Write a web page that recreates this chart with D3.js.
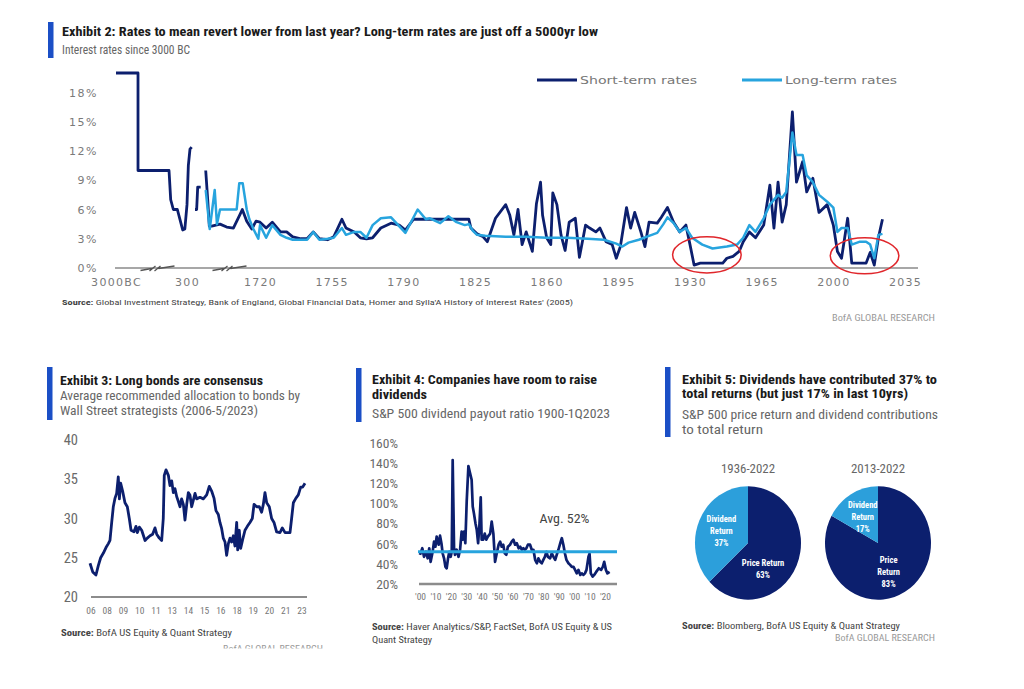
<!DOCTYPE html>
<html><head><meta charset="utf-8">
<script src="https://cdn.jsdelivr.net/npm/d3@7"></script>
<style>
body{margin:0;background:#fff;}
svg{display:block;}
</style></head><body>
<svg id="c" width="1024" height="689"></svg>
<script>
// ---------------- DATA ----------------
// Exhibit 2: interest rates (year, %), null = gap
const shortTermRates = [
[-3000,20],[-1977,20],[-1977,10],[-536,10],[-457,7],[-335,6],[-149,6],[100,3.9],[200,4],[300,6.5],[326,10.5],[358,12.2],[391,12.4],
[420,null],
[456,6],[488,6],[508,8.3],[566,8.3],
[600,null],
[664,10],[703,7],[734,4.3],[780,4.3],[942,4.5],[1072,4.2],[1202,4.1],[1332,5.5],[1376,6],[1462,4.8],[1560,4],[1643,4.8],
[1720,4.7],[1723,4.1],[1726,4.7],[1730,3.7],[1733,3.7],[1736,3.2],[1740,3],[1743,3],[1746,3.7],[1749,3],[1753,2.9],[1756,3.2],
[1760,5],[1762,4.1],[1766,3.7],[1769,3.1],[1772,3],[1775,3.1],[1779,4.1],[1784,4.6],[1788,4.4],[1791,3.9],[1795,5],[1822,5],
[1823,4.1],[1826,3.5],[1829,3.2],[1831,2.7],[1835,5.1],[1840,6.5],[1842,5.4],[1844,3.4],[1846,6],[1848,2.4],[1850,3.7],[1853,1.7],
[1855,6.6],[1857,8.8],[1858,5.4],[1860,3.1],[1862,2.4],[1863,7.7],[1865,6.5],[1867,3.4],[1869,1.8],[1871,4.7],[1874,5.1],[1876,1.1],
[1879,4.4],[1881,4.1],[1884,3.7],[1886,4.1],[1889,2.7],[1892,2.4],[1894,1],[1896,2.2],[1899,6.2],[1901,4.1],[1903,5.7],[1906,3.7],
[1908,2.2],[1910,4.7],[1914,4.6],[1916,5.2],[1919,6.2],[1922,4.7],[1925,3.7],[1928,4.4],[1930,2.4],[1932,0.3],[1935,0.5],[1946,0.5],
[1948,1],[1951,1.2],[1954,1.7],[1956,2.7],[1959,3.7],[1962,3.1],[1966,4.4],[1969,8.5],[1971,4.1],[1973,8.8],[1975,4.7],[1977,6.5],
[1980,16],[1982,8.8],[1985,10.9],[1987,7.8],[1990,9.2],[1993,5.7],[1997,6.5],[2000,4.4],[2002,1.7],[2004,1],[2007,5.1],[2009,0.5],
[2016,0.5],[2018,1.6],[2020,0.3],[2022,3.1],[2024,5]
];
const longTermRates = [
[664,8],[742,4],[839,8],[883,4.5],[942,6],[1266,6],[1317,8.7],[1383,8.7],[1462,6],[1513,5],[1592,4],[1687,3],
[1720,4.4],[1723,3.1],[1726,4.4],[1730,3.4],[1733,3.1],[1736,2.9],[1740,2.9],[1743,2.9],[1746,3.7],[1749,2.9],[1753,3],[1756,3.1],
[1760,4.1],[1762,3.4],[1766,3.7],[1769,3.7],[1772,3.1],[1775,4.4],[1779,5.1],[1784,5.2],[1791,3.6],[1797,6],[1801,5],[1803,5.1],
[1808,4.6],[1812,5.3],[1816,4.7],[1820,4.4],[1822,4.5],[1824,3.8],[1826,3.4],[1830,3.3],[1840,3.2],[1850,3.2],[1860,3.1],[1870,3.1],
[1880,3],[1888,2.9],[1894,2.5],[1897,2.2],[1900,2.6],[1905,2.9],[1910,3.3],[1914,3.6],[1917,4.5],[1919,5.2],[1922,4.6],[1925,3.7],
[1928,4.1],[1931,3.1],[1936,2.4],[1941,2.0],[1948,2.2],[1953,2.4],[1956,3.1],[1959,4.4],[1962,3.7],[1966,5.1],[1969,6.5],[1973,7.5],
[1975,7.2],[1977,7.8],[1980,13.9],[1982,11.6],[1985,11.6],[1987,9.5],[1990,8.8],[1993,7.5],[1997,6.8],[2000,6.2],[2002,3.7],[2004,4.1],
[2007,4.1],[2009,2.4],[2013,2.7],[2016,2.7],[2018,2.4],[2020,1.0],[2022,3.4],[2024,3.5]
];
const topXTickYears = [-3000,300,1720,1755,1790,1825,1860,1895,1930,1965,2000,2035];
const topXTickLabels = ["3000BC","300","1720","1755","1790","1825","1860","1895","1930","1965","2000","2035"];
const topYTicks = [0,3,6,9,12,15,18];
const highlightPeriods = [[1921.5,1955,-0.5,3.2],[1998.5,2032,-0.6,3.1]]; // year range, rate range

// Exhibit 3: allocation to bonds (decimal year, %)
const bondAllocation = [
[2006.00,24.3],[2006.22,23.2],[2006.48,22.8],[2006.67,24.0],[2006.86,25.0],[2007.08,25.6],[2007.29,26.3],[2007.48,26.8],
[2007.61,27.2],[2007.75,29.5],[2007.88,31.5],[2008.02,32.6],[2008.15,33.2],[2008.28,35.3],[2008.37,32.5],[2008.47,34.5],
[2008.63,33.5],[2008.82,32.0],[2009.01,31.5],[2009.17,30.0],[2009.31,28.5],[2009.55,28.3],[2009.71,29.0],[2009.82,28.2],
[2009.98,28.9],[2010.17,28.5],[2010.44,27.2],[2010.62,27.5],[2010.84,27.8],[2011.05,28.0],[2011.24,28.8],[2011.38,28.0],
[2011.59,27.5],[2011.78,27.2],[2011.91,30.0],[2011.99,35.5],[2012.13,36.2],[2012.32,35.5],[2012.45,34.2],[2012.59,34.8],
[2012.72,33.3],[2012.85,33.8],[2012.99,32.8],[2013.12,32.2],[2013.26,31.5],[2013.39,32.5],[2013.53,31.8],[2013.66,29.8],
[2013.80,31.8],[2013.93,33.3],[2014.06,33.0],[2014.20,31.5],[2014.33,32.3],[2014.47,33.2],[2014.60,32.5],[2014.87,32.7],
[2015.14,32.5],[2015.41,33.0],[2015.62,34.1],[2015.81,33.5],[2016.00,32.6],[2016.16,31.0],[2016.35,30.5],[2016.48,29.5],
[2016.62,28.7],[2016.75,27.5],[2016.89,27.0],[2017.02,25.3],[2017.16,26.8],[2017.29,27.5],[2017.42,27.0],[2017.56,27.8],
[2017.69,26.5],[2017.83,29.5],[2017.91,26.0],[2018.04,28.5],[2018.15,26.2],[2018.31,27.3],[2018.50,28.5],[2018.69,29.0],
[2018.90,29.5],[2019.09,30.0],[2019.23,31.8],[2019.44,31.5],[2019.66,31.5],[2019.84,30.8],[2019.98,31.8],[2020.11,33.3],
[2020.25,32.0],[2020.46,31.5],[2020.65,30.0],[2020.84,29.5],[2021.05,28.3],[2021.32,28.2],[2021.51,28.8],[2021.73,28.2],
[2021.91,28.2],[2022.13,28.2],[2022.26,30.0],[2022.40,32.0],[2022.61,32.6],[2022.80,33.0],[2022.99,34.0],[2023.15,34.0],[2023.34,34.5]
];
const ex3YTicks = [20,25,30,35,40];
const ex3XLabels = ["06","08","09","10","11","13","14","15","16","18","19","20","21","23"];

// Exhibit 4: S&P 500 dividend payout ratio (year, %)
const payoutRatio = [
[1900,48.9],[1901.5,55.5],[1902.6,47],[1903.9,52],[1905,45.5],[1906,55.5],[1906.9,42],[1908.2,52],[1909.1,62],[1910,57],
[1910.8,67],[1912.1,59],[1913,68],[1913.9,60.5],[1914.7,50.5],[1915.6,45.5],[1916.5,37],[1917.3,35.6],[1918.2,45.5],[1919,52],
[1919.9,47],[1920.6,52],[1921.2,143],[1922.1,55.5],[1922.7,49],[1923.8,54],[1925,47],[1926,54],[1927,72],[1927.7,64],
[1928.6,72],[1929.4,60.5],[1930.3,102],[1931.4,137],[1932.5,130],[1933.5,123.5],[1934.2,97],[1935,90],[1936,80],[1936.8,74],
[1937.7,60.5],[1938.5,77],[1939.4,106],[1940,64],[1941,64],[1942,70],[1943,64],[1944,67],[1945.5,70],[1946.5,82],
[1947.6,70],[1948.7,42],[1949.8,50.5],[1951,59],[1952,62],[1953,57],[1954,59],[1955,50.5],[1956,49],[1957,57],
[1958.4,59],[1959.5,62],[1960.6,64],[1961.7,59],[1962.8,60.5],[1964,55.5],[1965,57],[1966,54],[1967,55.5],[1968,54],
[1969,55.5],[1970,59],[1971.4,59],[1972.5,54],[1973.6,54],[1974.7,44],[1975.8,40.6],[1976.8,45.5],[1978,42],[1979,40.6],
[1980,44],[1981,47],[1982,52],[1983,47],[1984.4,45.5],[1985.5,50.5],[1986.6,47],[1987.7,44],[1988.7,49],[1989.8,54],
[1991,60.5],[1992,65.5],[1993,59],[1994,50.5],[1995,44],[1996.3,40.6],[1997.4,39],[1998.5,37],[1999.6,37],[2000.6,34],
[2001.7,30.6],[2002.8,34],[2004,29],[2005,30.6],[2006,29],[2007,30.6],[2008,34],[2009.3,47],[2010,50],[2010.8,30.6],
[2012,27.3],[2013,29],[2014.3,32],[2016,35.6],[2017.5,34],[2018.6,37],[2019.5,42],[2020.6,34],[2021.6,30.6],[2023,32]
];
const ex4YTicks = [20,40,60,80,100,120,140,160];
const ex4XYears = [1900,1910,1920,1930,1940,1950,1960,1970,1980,1990,2000,2010,2020];
const ex4XLabels = ["'00","'10","'20","'30","'40","'50","'60","'70","'80","'90","'00","'10","'20"];
const payoutAverage = 52;

// Exhibit 5: contributions to total return (%)
const pieTitles = ["1936-2022","2013-2022"];
const priceReturn = [63, 83];
const dividendReturn = [37, 17];

// ---------------- STYLE ----------------
const NAVY = "#0c1f6e", LIGHT = "#27a4de", BAR = "#1b4fc6", RED = "#e0262b";
const NARROW = "'Liberation Sans Narrow','Roboto Condensed','Liberation Sans',Arial,sans-serif";
const WIDE = "'DejaVu Sans',Verdana,sans-serif";

const svg = d3.select("#c");

function addText(p, o) {
  const t = p.append("text")
    .attr("x", o.x).attr("y", o.y)
    .attr("font-family", o.family || NARROW)
    .attr("font-size", o.size || 12)
    .attr("font-weight", o.weight || "normal")
    .attr("fill", o.fill || "#222")
    .attr("text-anchor", o.anchor || "start");
  if (o.ls) t.attr("letter-spacing", o.ls);
  if (o.parts) {
    o.parts.forEach(pt => t.append("tspan").attr("font-weight", pt.weight || "normal").text(pt.text));
  } else t.text(o.text);
  if (o.width) t.attr("textLength", o.width).attr("lengthAdjust", "spacingAndGlyphs");
  return t;
}
function bar(x, y1, y2) {
  svg.append("rect").attr("x", x).attr("y", y1).attr("width", 5.5).attr("height", y2 - y1).attr("fill", BAR);
}

// ---------------- EXHIBIT 2 ----------------
bar(48, 22, 58);
addText(svg, {x: 62, y: 36, text: "Exhibit 2: Rates to mean revert lower from last year? Long-term rates are just off a 5000yr low", size: 13, weight: "bold", fill: "#1a1a1a", width: 536});
addText(svg, {x: 62, y: 54, text: "Interest rates since 3000 BC", size: 12.5, fill: "#666", width: 128});

const xTop = d3.scaleLinear().domain([-3000, 300, 1720, 2035]).range([116, 187, 260, 905]);
const yTop = d3.scaleLinear().domain([0, 20]).range([268, 73]);

const gTop = svg.append("g");
gTop.append("line").attr("x1", 115).attr("x2", 918).attr("y1", yTop(0)).attr("y2", yTop(0))
  .attr("stroke", "#8a8a8a").attr("stroke-width", 1.3);

const xAxisTop = gTop.append("g").attr("transform", `translate(0,${yTop(0)})`)
  .call(d3.axisBottom(xTop).tickValues(topXTickYears).tickFormat((d, i) => topXTickLabels[i]).tickSize(0).tickPadding(10));
xAxisTop.select(".domain").remove();
xAxisTop.selectAll("text").attr("font-family", WIDE).attr("font-size", 11).attr("fill", "#7a7a7a").attr("letter-spacing", 1.3);

const yAxisTop = gTop.append("g").attr("transform", `translate(115,0)`)
  .call(d3.axisLeft(yTop).tickValues(topYTicks).tickFormat(d => d + "%").tickSize(0).tickPadding(17));
yAxisTop.select(".domain").remove();
yAxisTop.selectAll("text").attr("font-family", WIDE).attr("font-size", 11).attr("fill", "#7a7a7a").attr("letter-spacing", 1.5);

// axis break marks
[[-3000, 300], [300, 1720]].forEach(([a, b]) => {
  const cx = (xTop(a) + xTop(b)) / 2 + 6, cy = yTop(0);
  gTop.append("path").attr("transform", `translate(${cx},${cy})`)
    .attr("d", "M-17,2.5 L-6,0.5 M-8,3 L-2,-2 M-3,3 L3,-2 M1,0.5 L17,-2")
    .attr("fill", "none").attr("stroke", "#555").attr("stroke-width", 1.3);
});

const lineTop = d3.line().defined(d => d[1] != null).x(d => xTop(d[0])).y(d => yTop(d[1]));
gTop.append("path").datum(shortTermRates).attr("d", lineTop)
  .attr("fill", "none").attr("stroke", NAVY).attr("stroke-width", 2.8).attr("stroke-linejoin", "round");
gTop.append("path").datum(longTermRates).attr("d", lineTop)
  .attr("fill", "none").attr("stroke", LIGHT).attr("stroke-width", 2.5).attr("stroke-linejoin", "round");

highlightPeriods.forEach(([y0, y1, v0, v1]) => {
  gTop.append("ellipse")
    .attr("cx", (xTop(y0) + xTop(y1)) / 2).attr("cy", (yTop(v0) + yTop(v1)) / 2)
    .attr("rx", (xTop(y1) - xTop(y0)) / 2).attr("ry", (yTop(v0) - yTop(v1)) / 2)
    .attr("fill", "none").attr("stroke", RED).attr("stroke-width", 1.5);
});

[["Short-term rates", NAVY, 537, 117], ["Long-term rates", LIGHT, 742, 112]].forEach(([lab, col, x, w]) => {
  svg.append("line").attr("x1", x).attr("x2", x + 40).attr("y1", 80).attr("y2", 80).attr("stroke", col).attr("stroke-width", 3);
  addText(svg, {x: x + 43, y: 84, text: lab, family: WIDE, size: 11, fill: "#777", width: w});
});

addText(svg, {x: 62, y: 305, parts: [{text: "Source: ", weight: "bold"}, {text: "Global Investment Strategy, Bank of England, Global Financial Data, Homer and Sylla'A History of Interest Rates' (2005)"}], size: 8, fill: "#444", width: 511});
addText(svg, {x: 935, y: 321, text: "BofA GLOBAL RESEARCH", size: 8.5, fill: "#9a9a9a", anchor: "end", width: 103});

// ---------------- EXHIBIT 3 ----------------
bar(47, 367, 420);
addText(svg, {x: 60, y: 385, text: "Exhibit 3: Long bonds are consensus", size: 12.5, weight: "bold", fill: "#1a1a1a", width: 203});
addText(svg, {x: 60, y: 400, text: "Average recommended allocation to bonds by", size: 12.5, fill: "#666", width: 240});
addText(svg, {x: 60, y: 415, text: "Wall Street strategists (2006-5/2023)", size: 12.5, fill: "#666", width: 198});

const x3 = d3.scaleLinear().domain([2006, 2023.34]).range([90, 305]);
const y3 = d3.scaleLinear().domain([20, 40]).range([597, 440]);
const g3 = svg.append("g");
g3.append("line").attr("x1", 91).attr("x2", 307).attr("y1", y3(20)).attr("y2", y3(20)).attr("stroke", "#8c8c8c").attr("stroke-width", 2);
const y3Axis = g3.append("g").attr("transform", "translate(91,0)")
  .call(d3.axisLeft(y3).tickValues(ex3YTicks).tickSize(0).tickPadding(13));
y3Axis.select(".domain").remove();
y3Axis.selectAll("text").attr("font-family", NARROW).attr("font-size", 14.5).attr("fill", "#6a6a6a");
const x3Lab = d3.scalePoint().domain(ex3XLabels).range([91, 302]);
g3.selectAll(".x3").data(ex3XLabels).join("text")
  .attr("x", d => x3Lab(d)).attr("y", 614).attr("text-anchor", "middle")
  .attr("font-family", NARROW).attr("font-size", 9.5).attr("fill", "#777").text(d => d);
g3.append("path").datum(bondAllocation)
  .attr("d", d3.line().x(d => x3(d[0])).y(d => y3(d[1])))
  .attr("fill", "none").attr("stroke", NAVY).attr("stroke-width", 2.8).attr("stroke-linejoin", "round");

addText(svg, {x: 61, y: 636, parts: [{text: "Source: ", weight: "bold"}, {text: "BofA US Equity & Quant Strategy"}], size: 9, fill: "#444", width: 171});
svg.append("clipPath").attr("id", "clip3").append("rect").attr("x", 0).attr("y", 600).attr("width", 340).attr("height", 48.5);
addText(svg.append("g").attr("clip-path", "url(#clip3)"), {x: 323, y: 652, text: "BofA GLOBAL RESEARCH", size: 9, fill: "#9a9a9a", anchor: "end", width: 100});

// ---------------- EXHIBIT 4 ----------------
bar(356, 368, 422);
addText(svg, {x: 372, y: 384, text: "Exhibit 4: Companies have room to raise", size: 12.5, weight: "bold", fill: "#1a1a1a", width: 225});
addText(svg, {x: 372, y: 399, text: "dividends", size: 12.5, weight: "bold", fill: "#1a1a1a", width: 55});
addText(svg, {x: 372, y: 418, text: "S&P 500 dividend payout ratio 1900-1Q2023", size: 12.5, fill: "#666", width: 238});

const x4 = d3.scaleLinear().domain([1900, 2023]).range([420, 609.6]);
const y4 = d3.scaleLinear().domain([20, 160]).range([584, 443]);
const g4 = svg.append("g");
g4.append("line").attr("x1", 419).attr("x2", 617).attr("y1", y4(20)).attr("y2", y4(20)).attr("stroke", "#8c8c8c").attr("stroke-width", 2.4);
const y4Axis = g4.append("g").attr("transform", "translate(412,0)")
  .call(d3.axisLeft(y4).tickValues(ex4YTicks).tickFormat(d => d + "%").tickSize(0).tickPadding(14));
y4Axis.select(".domain").remove();
y4Axis.selectAll("text").attr("font-family", NARROW).attr("font-size", 13.5).attr("fill", "#6a6a6a");
const x4Axis = g4.append("g").attr("transform", `translate(0,${y4(20)})`)
  .call(d3.axisBottom(x4).tickValues(ex4XYears).tickFormat((d, i) => ex4XLabels[i]).tickSize(0).tickPadding(9));
x4Axis.select(".domain").remove();
x4Axis.selectAll("text").attr("font-family", NARROW).attr("font-size", 9.5).attr("fill", "#777");
g4.append("path").datum(payoutRatio)
  .attr("d", d3.line().x(d => x4(d[0])).y(d => y4(d[1])))
  .attr("fill", "none").attr("stroke", NAVY).attr("stroke-width", 2.7).attr("stroke-linejoin", "round");
g4.append("line").attr("x1", 418).attr("x2", 617).attr("y1", y4(payoutAverage)).attr("y2", y4(payoutAverage))
  .attr("stroke", LIGHT).attr("stroke-width", 3);
addText(g4, {x: x4(1977.5), y: y4(81), text: `Avg. ${payoutAverage}%`, size: 13, fill: "#444", width: 50});

addText(svg, {x: 372, y: 630, parts: [{text: "Source: ", weight: "bold"}, {text: "Haver Analytics/S&P,  FactSet, BofA US Equity  & US"}], size: 9, fill: "#444", width: 240});
addText(svg, {x: 372, y: 643, text: "Quant Strategy", size: 9, fill: "#444", width: 60});

// ---------------- EXHIBIT 5 ----------------
bar(665, 367, 437);
addText(svg, {x: 682, y: 384, text: "Exhibit 5: Dividends have contributed 37% to", size: 12.5, weight: "bold", fill: "#1a1a1a", width: 255});
addText(svg, {x: 682, y: 398, text: "total returns (but just 17% in last 10yrs)", size: 12.5, weight: "bold", fill: "#1a1a1a", width: 226});
addText(svg, {x: 682, y: 419, text: "S&P 500 price return and dividend contributions", size: 12.5, fill: "#666", width: 256});
addText(svg, {x: 682, y: 434, text: "to total return", size: 12.5, fill: "#666", width: 81});

const pieCenters = [[748, 543], [878, 543]];
const pie = d3.pie().sort(null).value(d => d.v);
const arc = d3.arc().innerRadius(0).outerRadius(53);
const labelLayout = [
  {price: {ang: 150, r: 30, lines: ["Price Return", "{v}%"]}, div: {ang: null, r: 29, lines: ["Dividend", "Return", "{v}%"]}},
  {price: {ang: 160, r: 31, lines: ["Price", "Return", "{v}%"]}, div: {ang: null, r: 30, lines: ["Dividend", "Return", "{v}%"]}}
];
pieTitles.forEach((title, i) => {
  const [cx, cy] = pieCenters[i];
  const g = svg.append("g").attr("transform", `translate(${cx},${cy})`);
  addText(g, {x: 0, y: -70, text: title, size: 12, fill: "#666", anchor: "middle", width: 54});
  const arcs = pie([{k: "price", v: priceReturn[i]}, {k: "div", v: dividendReturn[i]}]);
  g.append("g").attr("transform", "scale(1,1.07)").selectAll("path").data(arcs).join("path")
    .attr("d", arc).attr("fill", d => d.data.k === "price" ? NAVY : "#2c9fdb");
  arcs.forEach(a => {
    const L = labelLayout[i][a.data.k];
    let angDeg = L.ang != null ? L.ang : ((a.startAngle + a.endAngle) / 2) * 180 / Math.PI;
    const rad = angDeg * Math.PI / 180;
    const lx = Math.sin(rad) * L.r, ly = -Math.cos(rad) * L.r;
    const n = L.lines.length;
    L.lines.forEach((ln, j) => {
      const s = ln.replace("{v}", a.data.v);
      addText(g, {x: lx, y: ly + (j - (n - 1) / 2) * 12 + 3, text: s, size: 8.5, weight: "bold", fill: "#fff", anchor: "middle"});
    });
  });
});

addText(svg, {x: 682, y: 629, parts: [{text: "Source: ", weight: "bold"}, {text: "Bloomberg, BofA US Equity & Quant Strategy"}], size: 9, fill: "#444", width: 218});
addText(svg, {x: 935, y: 641, text: "BofA GLOBAL RESEARCH", size: 9, fill: "#9a9a9a", anchor: "end", width: 100});
</script></body></html>
